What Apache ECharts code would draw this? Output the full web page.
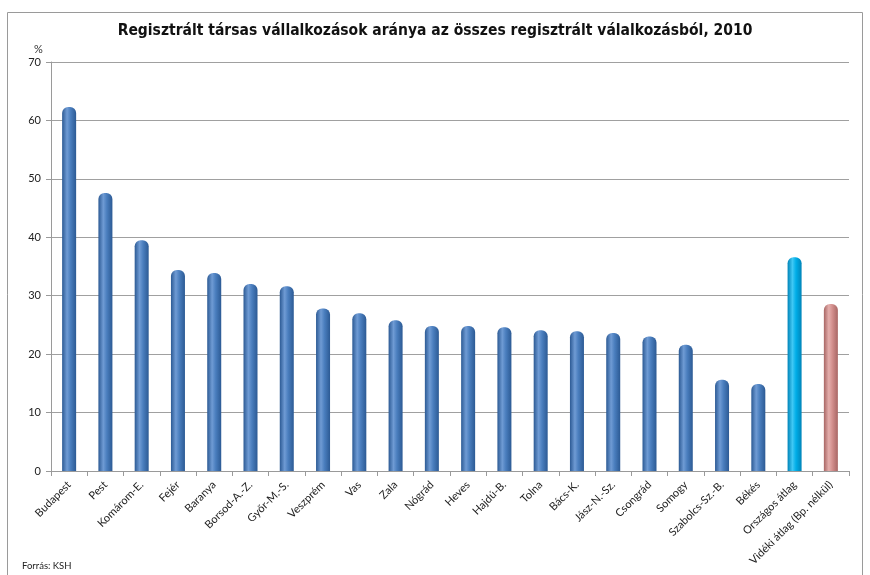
<!DOCTYPE html>
<html>
<head>
<meta charset="utf-8">
<script src="https://cdn.jsdelivr.net/npm/echarts@6/dist/echarts.min.js"></script>
<style>
  html, body { margin: 0; padding: 0; background: #fff; }
  #chart { width: 870px; height: 575px; }
</style>
</head>
<body>
<div id="chart"></div>
<script>
// megyék + átlagok
const categories = [
  "Budapest", "Pest", "Komárom-E.", "Fejér", "Baranya", "Borsod-A.-Z.",
  "Győr-M.-S.", "Veszprém", "Vas", "Zala", "Nógrád", "Heves", "Hajdú-B.",
  "Tolna", "Bács-K.", "Jász-N.-Sz.", "Csongrád", "Somogy", "Szabolcs-Sz.-B.",
  "Békés", "Országos átlag", "Vidéki átlag (Bp. nélkül)"
];
const values = [
  62.3, 47.6, 39.5, 34.4, 33.9, 32.0, 31.6, 27.8, 27.0, 25.8, 24.8,
  24.8, 24.6, 24.1, 23.9, 23.6, 23.0, 21.6, 15.6, 14.9, 36.6, 28.6
];
const yTicks = [0, 10, 20, 30, 40, 50, 60, 70];

const cylinder = (dark, mid, light) => new echarts.graphic.LinearGradient(0, 0, 1, 0, [
  { offset: 0, color: dark },
  { offset: 0.35, color: light },
  { offset: 0.6, color: mid },
  { offset: 1, color: dark }
]);

const blue = cylinder("#2c5a94", "#4a7ebe", "#6f9bd4");
const cyan = cylinder("#0084b8", "#00aee8", "#40c8f4");
const pink = cylinder("#a86664", "#d38f8d", "#e4aeac");

const barData = values.map((v, i) => {
  let color = blue;
  if (i === 20) color = cyan;
  if (i === 21) color = pink;
  return { value: v, itemStyle: { color: color } };
});

const chart = echarts.init(document.getElementById("chart"));
chart.setOption({
  animation: false,
  title: {
    text: "Regisztrált társas vállalkozások aránya az összes regisztrált válalkozásból, 2010",
    left: "center",
    top: 18,
    textStyle: {
      fontFamily: "DejaVu Sans Condensed",
      fontWeight: "bold",
      fontSize: 15.5,
      color: "#111"
    }
  },
  graphic: [
    {
      type: "rect",
      shape: { x: 7.5, y: 12.5, width: 855, height: 580 },
      style: { fill: "none", stroke: "#9a9a9a", lineWidth: 1 }
    },
    {
      type: "text",
      left: 34,
      top: 44,
      style: { text: "%", fontSize: 11, fill: "#333", fontFamily: "Lato" }
    },
    {
      type: "text",
      left: 22,
      top: 561,
      style: { text: "Forrás: KSH", fontSize: 9.5, fill: "#222", fontFamily: "Lato" }
    }
  ],
  grid: {
    left: 51,
    right: 21,
    top: 62,
    bottom: 104
  },
  xAxis: {
    type: "category",
    data: categories,
    axisLine: { show: true, lineStyle: { color: "#9a9a9a" } },
    axisTick: { show: true, lineStyle: { color: "#9a9a9a" } },
    axisLabel: {
      rotate: 45,
      interval: 0,
      fontSize: 11,
      fontFamily: "Lato",
      color: "#222",
      margin: 12
    }
  },
  yAxis: {
    type: "value",
    min: 0,
    max: 70,
    interval: 10,
    axisLine: { show: true, lineStyle: { color: "#9a9a9a" } },
    axisTick: { show: true, lineStyle: { color: "#9a9a9a" } },
    axisLabel: {
      fontSize: 11,
      fontFamily: "Lato",
      color: "#222",
      margin: 10,
      formatter: (v) => (yTicks.includes(v) ? String(v) : "")
    },
    splitLine: { show: true, lineStyle: { color: "#a0a0a0", width: 1 } }
  },
  series: [
    {
      type: "bar",
      data: barData,
      barWidth: 14,
      itemStyle: { borderRadius: [6, 6, 0, 0] }
    }
  ]
});
</script>
</body>
</html>
